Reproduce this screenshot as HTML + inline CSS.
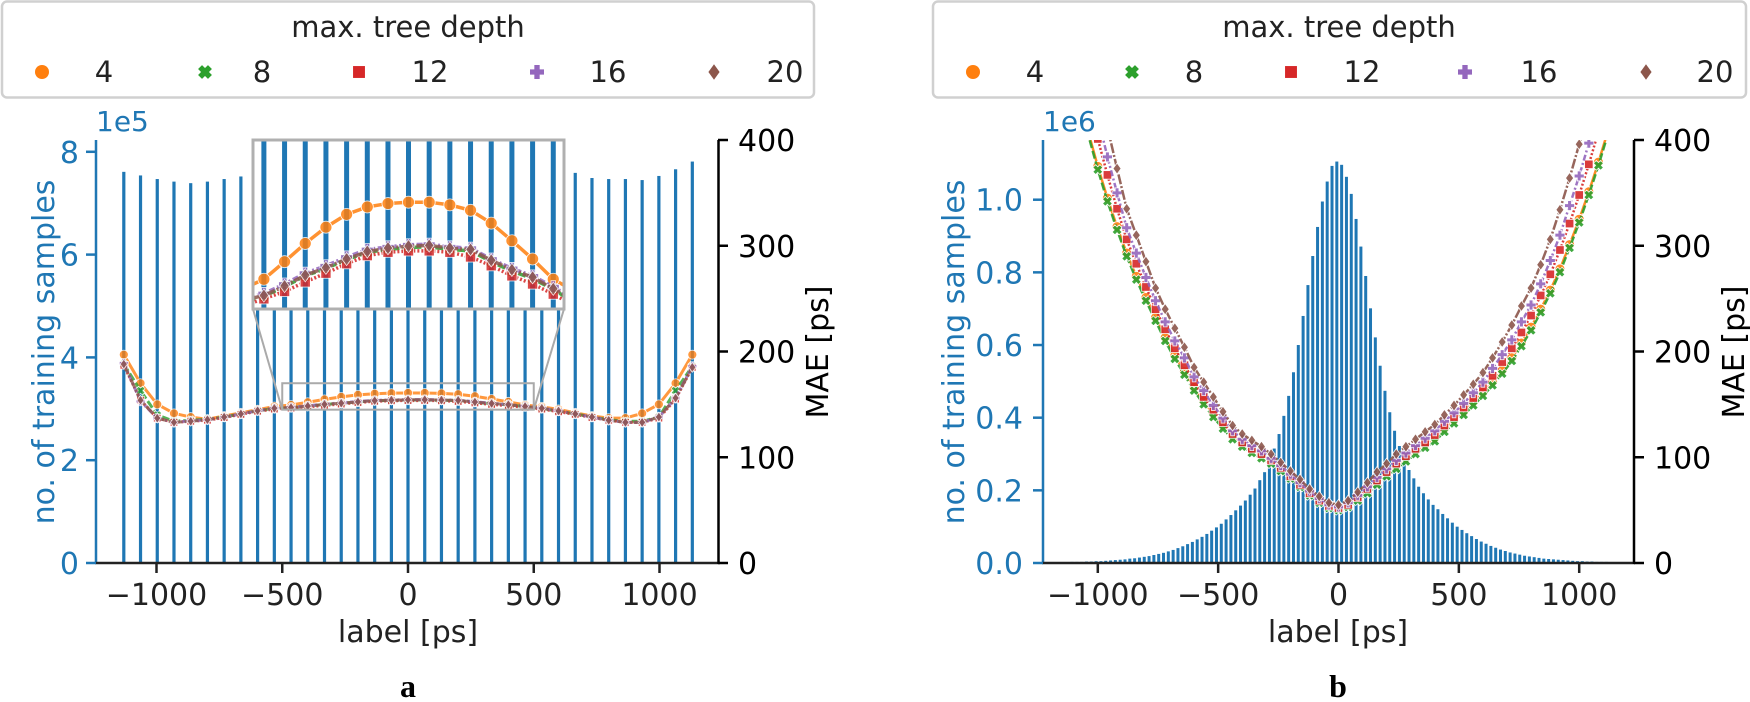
<!DOCTYPE html>
<html><head><meta charset="utf-8"><style>
html,body{margin:0;padding:0;background:#fff;}
svg{display:block;font-family:"DejaVu Sans","Liberation Sans",sans-serif;}
</style></head><body>
<svg id="fig" width="1750" height="702" viewBox="0 0 1750 702" xmlns="http://www.w3.org/2000/svg">
<defs>
<clipPath id="clipL"><rect x="96" y="140" width="623" height="423"/></clipPath>
<clipPath id="clipI"><rect x="253" y="140" width="311" height="169"/></clipPath>
<clipPath id="clipR"><rect x="1043" y="140" width="591" height="423"/></clipPath>
</defs>
<g id="legendL"></g>
<g id="legendR"></g>
<g id="panelA"></g>
<g id="panelB"></g>
</svg>
<script>
// ---------- data: panel a ----------
const binCentersA = [-1130,-1063.5,-997,-930.5,-864,-797.5,-731,-664.5,-598,-531.5,-465,-398.5,-332,-265.5,-199,-132.5,-66,0,66.5,133,199.5,266,332.5,399,465.5,532,598.5,665,731.5,798,864.5,931,997.5,1064,1130.5];
const countsA = [7.61,7.54,7.47,7.42,7.39,7.42,7.47,7.52,7.6,7.6,7.6,7.6,7.6,7.6,7.6,7.6,7.6,7.6,7.6,7.6,7.6,7.6,7.6,7.6,7.6,7.6,7.6,7.59,7.49,7.47,7.47,7.45,7.53,7.66,7.81];
const maeA4  = [197,170,150,141.5,138,136,139,142,145,148,149.4,152.0,154.7,157.1,159.0,160.1,160.6,160.8,160.8,160.4,159.6,157.7,155.1,152.4,149.4,147.7,145.3,142,139,137,137,141.5,150,170,197];
const maeA8  = [188,163,140,134,135,136,138,141,144,146,146.9,148.3,149.9,151.0,152.3,153.4,153.8,154.1,154.2,153.8,153.6,152.0,150.6,149.5,147.9,146,143.5,141,138,135.5,134,134,138,163,186];
const maeA12 = [187,154,137,133,134,135,137.5,140.5,143.5,145.5,146.5,147.6,149.0,150.3,151.7,152.9,153.4,153.6,153.6,153.4,152.7,151.4,149.9,148.7,147.2,145.5,143,140.5,137.5,135,133,133,137,155,185];
const maeA16 = [189,153,137,133,134.5,135.5,138,141,144,146.5,147.3,148.7,150.3,151.4,152.7,153.8,154.2,154.5,154.6,154.2,154.0,152.4,151.0,149.9,148.3,146.5,144,141,138,135,133,133,138,156,186];
const maeA20 = [188,154,137,133,134,135.5,138,141,144,146.3,147.0,148.4,150.0,151.1,152.4,153.5,154.0,154.3,154.4,154.0,153.8,152.2,150.8,149.7,148.0,146.3,143.8,141,138,135,133,133,138,156,185];
const ticksX = [-1000,-500,0,500,1000];
const ticksCountA = [0,2,4,6,8];
const ticksMae = [0,100,200,300,400];
// ---------- data: panel b ----------
const countsBLeft = [1.093,1.050,0.995,0.925,0.845,0.765,0.680,0.600,0.525,0.460,0.405,0.355,0.315,0.280,0.250,0.228,0.205,0.188,0.172,0.158,0.145,0.132,0.120,0.108,0.098,0.089,0.080,0.072,0.065,0.058,0.052,0.046,0.041,0.036,0.032,0.028,0.025,0.022,0.019,0.017,0.015,0.013,0.012,0.010,0.009,0.008,0.007,0.006,0.005,0.005,0.004,0.004,0.003,0.003,0.003,0.002,0.002,0.002,0.001,0.001];
const countBPeak = 1.105;
const countsBRight = [1.096,1.063,1.016,0.947,0.871,0.790,0.701,0.621,0.543,0.474,0.415,0.364,0.322,0.282,0.256,0.233,0.210,0.192,0.175,0.160,0.148,0.135,0.123,0.111,0.100,0.091,0.082,0.074,0.066,0.059,0.053,0.047,0.042,0.037,0.033,0.029,0.026,0.023,0.020,0.018,0.016,0.014,0.012,0.011,0.010,0.009,0.008,0.007,0.006,0.005,0.005,0.004,0.004,0.003,0.003,0.003,0.002,0.002,0.002,0.001];
const binStepB = 20, binPeakB = -7;
const labelsB = [-1080,-1040,-1000,-960,-920,-880,-840,-800,-760,-720,-680,-640,-600,-560,-520,-480,-440,-400,-360,-320,-280,-240,-200,-160,-120,-80,-40,0,40,80,120,160,200,240,280,320,360,400,440,480,520,560,600,640,680,720,760,800,840,880,920,960,1000,1040,1080,1120,1160];
const maeB4  = [443,408,375,345,318,293,271,251,232,213,196,181,166,153,141,130,120,113,107,102,97,90,83,75,67,60,55,53,56,62,69,77,85,92,99,106,112,118,127,135,143,152,161,171,182,194,208,223,240,258,278,301,325,351,379,409,441];
const maeB8  = [440,405,372,342,315,290,268,248,229,210,193,178,163,150,138,127,117,110,104,99,94,87,80,72,64,57,52,50,53,59,66,74,82,89,96,103,109,115,124,132,140,149,158,168,179,191,205,220,237,255,275,298,322,348,376,406,438];
const maeB12 = [477,438,401,367,335,306,283,261,240,221,203,187,171,157,145,133,122,114,108,103,97,90,82,74,66,59,54,52,55,62,70,78,86,94,101,108,114,121,130,138,147,156,166,177,190,203,218,234,253,273,296,321,348,377,408,441,475];
const maeB16 = [503,462,422,384,350,317,293,270,248,228,210,194,176,163,149,137,125,117,111,106,99,92,84,76,68,61,55,53,57,64,72,81,89,97,104,111,118,125,134,142,151,161,171,184,197,211,228,244,264,286,310,338,366,397,430,465,502];
const maeB20 = [545,500,455,412,373,335,310,285,260,240,222,204,185,171,157,143,130,122,116,110,103,95,87,79,70,63,57,55,59,67,76,86,94,103,110,117,124,131,140,149,159,169,180,194,209,225,243,260,282,306,334,364,396,430,466,505,545];
const ticksCountB = [0.0,0.2,0.4,0.6,0.8,1.0];
const depths = ['4','8','12','16','20'];

const NS='http://www.w3.org/2000/svg';
const BLUE='#1f77b4';
const COLORS=['#ff7f0e','#2ca02c','#d62728','#9467bd','#8c564b'];
const SHAPES=['o','X','s','P','D'];
const DASH=['none','8,3','2,2','6,2.5,2,2.5','10,2,2,2'];
function mk(tag,attrs,parent){const e=document.createElementNS(NS,tag);for(const k in attrs)e.setAttribute(k,attrs[k]);if(parent)parent.appendChild(e);return e;}
function txt(parent,x,y,s,opts){const t=mk('text',Object.assign({x:x,y:y,'font-size':30,fill:'#222'},opts||{}),parent);t.textContent=s;return t;}
function marker(parent,shape,cx,cy,r,color,stroke){
  const st=stroke||'#fff';let e;
  if(shape==='o'){e=mk('circle',{cx:cx,cy:cy,r:r,fill:color,stroke:st,'stroke-width':0.8},parent);}
  else if(shape==='s'){e=mk('rect',{x:cx-r*0.85,y:cy-r*0.85,width:r*1.7,height:r*1.7,fill:color,stroke:st,'stroke-width':0.8},parent);}
  else if(shape==='D'){e=mk('polygon',{points:`${cx},${cy-r*1.1} ${cx+r*0.8},${cy} ${cx},${cy+r*1.1} ${cx-r*0.8},${cy}`,fill:color,stroke:st,'stroke-width':0.8},parent);}
  else if(shape==='P'){const a=r*0.38;e=mk('polygon',{points:`${cx-a},${cy-r} ${cx+a},${cy-r} ${cx+a},${cy-a} ${cx+r},${cy-a} ${cx+r},${cy+a} ${cx+a},${cy+a} ${cx+a},${cy+r} ${cx-a},${cy+r} ${cx-a},${cy+a} ${cx-r},${cy+a} ${cx-r},${cy-a} ${cx-a},${cy-a}`,fill:color,stroke:st,'stroke-width':0.8},parent);}
  else {const g=mk('g',{transform:`translate(${cx},${cy}) rotate(45)`},parent);const a=r*0.4;
    mk('polygon',{points:`${-a},${-r} ${a},${-r} ${a},${-a} ${r},${-a} ${r},${a} ${a},${a} ${a},${r} ${-a},${r} ${-a},${a} ${-r},${a} ${-r},${-a} ${-a},${-a}`,fill:color,stroke:st,'stroke-width':0.8},g);e=g;}
  return e;
}
// ---------- legends ----------
function legend(g,bx,bw,titleX,mx,lx){
  const box=mk('rect',{x:bx,y:1.5,width:bw,height:96,rx:5,fill:'#fff',stroke:'#d0d0d0','stroke-width':2.5},g);
  
  
  const t=txt(g,titleX,37,'max. tree depth',{'text-anchor':'middle','font-size':29});
  
  
  depths.forEach((d,i)=>{
    const eg=mk('g',{},g);
    
    
    marker(eg,SHAPES[i],mx[i],72,7,COLORS[i],'none');
    txt(eg,lx[i],82,d,{'text-anchor':'middle','font-size':29});
  });
}
legend(document.getElementById('legendL'),2,812,408,[42,205,359,537,714],[104,262,430,608,785]);
legend(document.getElementById('legendR'),933,813,1339,[973,1132,1291,1465,1646],[1035,1194,1362,1539,1715]);

// ---------- panel a ----------
(function(){
  const g=document.getElementById('panelA');
  const xL=v=>408+v*0.2515, yC=c=>563-c*51.4, yM=m=>563-m*1.0575;
  const xI=v=>253+(v+500)*0.311, yI=m=>309-(m-145)*6.76;
  const bars=mk('g',{'clip-path':'url(#clipL)'},g);
  
  
  binCentersA.forEach((c,i)=>{
    const b=mk('rect',{x:xL(c)-1.6,y:yC(countsA[i]),width:3.2,height:563-yC(countsA[i]),fill:BLUE},bars);
    
    
  });
  const series=[maeA4,maeA8,maeA12,maeA16,maeA20];
  function drawLines(parent,xf,yf,r,lw,op){
    series.forEach((s,k)=>{
      const sg=mk('g',{opacity:op},parent);
      
      
      const pts=s.map((v,i)=>xf(binCentersA[i])+','+yf(v)).join(' ');
      mk('polyline',{points:pts,fill:'none',stroke:COLORS[k],'stroke-width':lw,'stroke-dasharray':DASH[k]},sg);
      s.forEach((v,i)=>marker(sg,SHAPES[k],xf(binCentersA[i]),yf(v),r,COLORS[k]));
    });
  }
  const lines=mk('g',{'clip-path':'url(#clipL)'},g);
  drawLines(lines,xL,yM,4.5,3,0.8);
  const zr=mk('rect',{x:xL(-500),y:yM(170),width:xL(500)-xL(-500),height:yM(145)-yM(170),fill:'none',stroke:'#aaa','stroke-width':2},g);
  
  
  const c1=mk('line',{x1:253,y1:309,x2:xL(-500),y2:yM(145),stroke:'#aaa','stroke-width':2},g);
  
  
  const c2=mk('line',{x1:564,y1:309,x2:xL(500),y2:yM(145),stroke:'#aaa','stroke-width':2},g);
  
  
  const ins=mk('g',{},g);
  
  
  mk('rect',{x:253,y:140,width:311,height:169,fill:'#fff'},ins);
  const ib=mk('g',{'clip-path':'url(#clipI)'},ins);
  binCentersA.forEach((c,i)=>{
    const b=mk('rect',{x:xI(c)-2.5,y:140,width:5,height:169,fill:BLUE},ib);
    
    
  });
  const il=mk('g',{'clip-path':'url(#clipI)'},ins);
  drawLines(il,xI,yI,6,3.5,0.85);
  mk('rect',{x:253,y:140,width:311,height:169,fill:'none',stroke:'#b0b0b0','stroke-width':3},ins);
  const ax=mk('g',{},g);
  
  
  mk('line',{x1:96,y1:140,x2:96,y2:564,stroke:BLUE,'stroke-width':2.5},ax);
  mk('line',{x1:95,y1:563,x2:720,y2:563,stroke:'#222','stroke-width':2.5},ax);
  mk('line',{x1:718.5,y1:140,x2:718.5,y2:564,stroke:'#000','stroke-width':2.5},ax);
  ticksX.forEach(v=>{const x=xL(v);mk('line',{x1:x,y1:563,x2:x,y2:573,stroke:'#222','stroke-width':2.5},ax);
    const t=txt(ax,x,605,v<0?'\u2212'+Math.abs(v):String(v),{'text-anchor':'middle'});
    
    });
  ticksCountA.forEach(v=>{const y=yC(v);mk('line',{x1:86,y1:y,x2:96,y2:y,stroke:BLUE,'stroke-width':2.5},ax);
    const t=txt(ax,79,y+11,String(v),{'text-anchor':'end',fill:BLUE});
    
    });
  ticksMae.forEach(v=>{const y=yM(v);mk('line',{x1:718,y1:y,x2:728,y2:y,stroke:'#000','stroke-width':2.5},ax);
    const t=txt(ax,738,y+11,String(v),{fill:'#000'});
    
    });
  const oe=txt(ax,96,131,'1e5',{fill:BLUE,'font-size':28});
  
  
  const xl=txt(ax,408,642,'label [ps]',{'text-anchor':'middle'});
  
  
  const yl=txt(ax,0,0,'no. of training samples',{'text-anchor':'middle',fill:BLUE,transform:'translate(54,352) rotate(-90)'});
  
  
  const yr=txt(ax,0,0,'MAE [ps]',{'text-anchor':'middle',fill:'#000',transform:'translate(828,352) rotate(-90)'});
  
  
  const pl=mk('text',{x:408,y:697,'text-anchor':'middle','font-size':32,'font-weight':'bold','font-family':'Liberation Serif, serif',fill:'#000'},ax);
  pl.textContent='a';
  
  
})();

// ---------- panel b ----------
(function(){
  const g=document.getElementById('panelB');
  const xR=v=>1338.5+v*0.2407, yC=c=>563-c*363.3, yM=m=>563-m*1.0575;
  const countsB=countsBLeft.slice().reverse().concat([countBPeak],countsBRight);
  const nLeft=countsBLeft.length;
  const bars=mk('g',{'clip-path':'url(#clipR)'},g);
  
  
  countsB.forEach((c,i)=>{
    const center=binPeakB+(i-nLeft)*binStepB;
    const b=mk('rect',{x:xR(center)-1.5,y:yC(c),width:3,height:563-yC(c),fill:BLUE},bars);
    
    
  });
  const series=[maeB4,maeB8,maeB12,maeB16,maeB20];
  const lines=mk('g',{'clip-path':'url(#clipR)'},g);
  series.forEach((s,k)=>{
    const sg=mk('g',{opacity:0.9},lines);
    
    
    const pts=s.map((v,i)=>xR(labelsB[i])+','+yM(v)).join(' ');
    mk('polyline',{points:pts,fill:'none',stroke:COLORS[k],'stroke-width':2.5,'stroke-dasharray':DASH[k]},sg);
    s.forEach((v,i)=>marker(sg,SHAPES[k],xR(labelsB[i]),yM(v),5,COLORS[k]));
  });
  const ax=mk('g',{},g);
  
  
  mk('line',{x1:1043,y1:140,x2:1043,y2:564,stroke:BLUE,'stroke-width':2.5},ax);
  mk('line',{x1:1042,y1:563,x2:1635,y2:563,stroke:'#222','stroke-width':2.5},ax);
  mk('line',{x1:1634,y1:140,x2:1634,y2:564,stroke:'#000','stroke-width':2.5},ax);
  ticksX.forEach(v=>{const x=xR(v);mk('line',{x1:x,y1:563,x2:x,y2:573,stroke:'#222','stroke-width':2.5},ax);
    const t=txt(ax,x,605,v<0?'\u2212'+Math.abs(v):String(v),{'text-anchor':'middle'});
    
    });
  ticksCountB.forEach(v=>{const y=yC(v);mk('line',{x1:1033,y1:y,x2:1043,y2:y,stroke:BLUE,'stroke-width':2.5},ax);
    const t=txt(ax,1023,y+11,v.toFixed(1),{'text-anchor':'end',fill:BLUE});
    
    });
  ticksMae.forEach(v=>{const y=yM(v);mk('line',{x1:1634,y1:y,x2:1644,y2:y,stroke:'#000','stroke-width':2.5},ax);
    const t=txt(ax,1654,y+11,String(v),{fill:'#000'});
    
    });
  const oe=txt(ax,1043,131,'1e6',{fill:BLUE,'font-size':28});
  
  
  const xl=txt(ax,1338,642,'label [ps]',{'text-anchor':'middle'});
  
  
  const yl=txt(ax,0,0,'no. of training samples',{'text-anchor':'middle',fill:BLUE,transform:'translate(964,352) rotate(-90)'});
  
  
  const yr=txt(ax,0,0,'MAE [ps]',{'text-anchor':'middle',fill:'#000',transform:'translate(1744,352) rotate(-90)'});
  
  
  const pl=mk('text',{x:1338,y:697,'text-anchor':'middle','font-size':32,'font-weight':'bold','font-family':'Liberation Serif, serif',fill:'#000'},ax);
  pl.textContent='b';
  
  
})();
</script>
</body></html>
